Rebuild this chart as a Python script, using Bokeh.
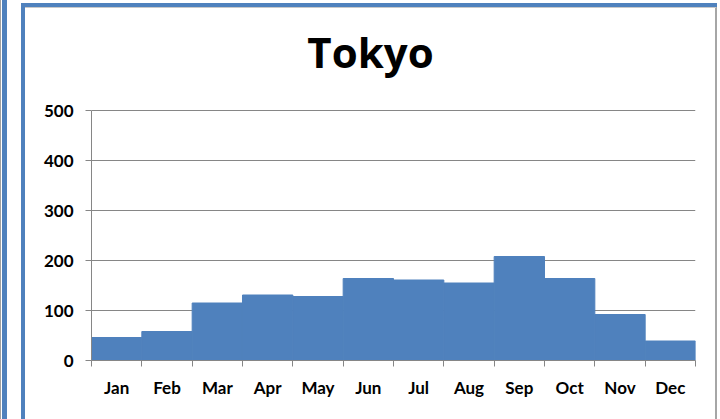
from bokeh.plotting import figure
from bokeh.models import Range1d, FixedTicker, ColumnDataSource, Label
from bokeh.embed import file_html
from bokeh.resources import INLINE

# ---- data ----
title_text = "Tokyo"
months = ["Jan", "Feb", "Mar", "Apr", "May", "Jun",
          "Jul", "Aug", "Sep", "Oct", "Nov", "Dec"]
rainfall = [46, 58, 115, 131, 128, 164, 161, 155, 208, 164, 92, 39]
y_ticks = [0, 100, 200, 300, 400, 500]

# ---- layout constants ----
W, H = 720, 419
FL, FR, FB = 91, 695, 360      # frame edges on canvas
AXIS_TOP = 110                 # canvas y of the top of the value axis
FRAME_TOP = 8                  # frame extends up to here so the title fits inside it
BAR = "#4F81BD"
GRID = "#868686"
FONT = "Lato"

# value range stretched so that y_ticks[-1] lands at AXIS_TOP
y_end = y_ticks[-1] * (FB - FRAME_TOP) / (FB - AXIS_TOP)

centers = [i + 0.5 for i in range(len(months))]
bounds = list(range(len(months) + 1))
src = ColumnDataSource(dict(x=centers, top=rainfall, month=months))

p = figure(width=W, height=H, output_backend="svg", toolbar_location=None,
           title_location=None,
           x_range=Range1d(0, len(months)),
           y_range=Range1d(y_ticks[0], y_end),
           min_border_left=FL, min_border_right=W - FR,
           min_border_top=FRAME_TOP, min_border_bottom=H - FB)
p.outline_line_color = None
p.background_fill_color = None
p.background_fill_alpha = 0
p.border_fill_color = None
p.border_fill_alpha = 0

p.vbar(x="x", top="top", width=1.0, bottom=0, source=src,
       fill_color=BAR, line_color=BAR, line_width=1)

# y axis
p.yaxis.ticker = FixedTicker(ticks=y_ticks)
p.yaxis.bounds = (y_ticks[0], y_ticks[-1])
p.yaxis.axis_line_color = GRID
p.yaxis.major_tick_line_color = GRID
p.yaxis.major_tick_in = 0
p.yaxis.major_tick_out = 6
p.yaxis.minor_tick_line_color = None
p.yaxis.major_label_standoff = 12
p.yaxis.major_label_text_font = FONT
p.yaxis.major_label_text_font_style = "bold"
p.yaxis.major_label_text_font_size = "17px"
p.yaxis.major_label_text_color = "black"

# x axis: labels at centres, tick marks at bar boundaries
p.xaxis.ticker = FixedTicker(ticks=centers, minor_ticks=bounds)
p.xaxis.major_label_overrides = {c: m for c, m in zip(centers, months)}
p.xaxis.axis_line_color = GRID
p.xaxis.major_tick_line_color = None
p.xaxis.major_tick_in = 0
p.xaxis.major_tick_out = 6
p.xaxis.minor_tick_line_color = GRID
p.xaxis.minor_tick_in = 0
p.xaxis.minor_tick_out = 6
p.xaxis.major_label_standoff = 10
p.xaxis.major_label_text_font = FONT
p.xaxis.major_label_text_font_style = "bold"
p.xaxis.major_label_text_font_size = "17px"
p.xaxis.major_label_text_color = "black"

p.xgrid.visible = False
p.ygrid.ticker = FixedTicker(ticks=y_ticks)
p.ygrid.grid_line_color = GRID

# title (screen units are measured from the frame's lower-left corner)
p.add_layout(Label(x=370 - FL, y=FB - 51, x_units="screen", y_units="screen",
                   text=title_text, text_align="center", text_baseline="alphabetic",
                   text_font="Open Sans", text_font_style="bold",
                   text_font_size="42px", text_color="black"))

# decorative chart frames drawn as CSS background layers of the figure element
rects = [  # x0, y0, x1, y1, colour (page pixels)
    (0, 0, 1, H, "#A0A0A0"),
    (2, 0, 7, H, BAR),
    (21, 3, 25, H, BAR),
    (21, 3, 717, 7, BAR),
    (25, 7, 716, 8, "#C8C8C8"),
    (715, 3, 717, H, "#A6A6A6"),
]
p.styles = {
    "background-color": "white",
    "background-image": ", ".join(f"linear-gradient({c}, {c})" for *_, c in rects),
    "background-size": ", ".join(f"{x1 - x0}px {y1 - y0}px" for x0, y0, x1, y1, _ in rects),
    "background-position": ", ".join(f"{x0}px {y0}px" for x0, y0, *_ in rects),
    "background-repeat": "no-repeat",
}

open("out.html", "w").write(file_html(p, INLINE))
